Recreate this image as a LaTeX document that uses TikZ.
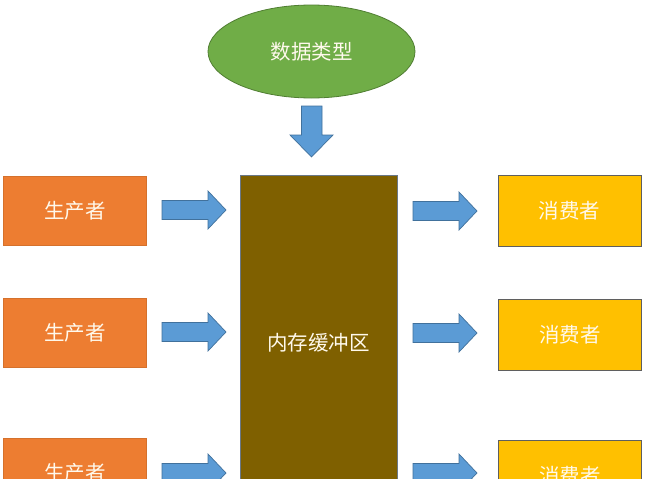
\documentclass[tikz,border=0pt]{standalone}
\usepackage{fontspec}
\newfontfamily\cjk{Noto Sans CJK SC}
\usetikzlibrary{shapes.geometric}
\definecolor{prodorange}{HTML}{ED7D31}
\definecolor{consgold}{HTML}{FFC000}
\definecolor{bufbrown}{HTML}{7F6000}
\definecolor{bufedge}{HTML}{6A7888}
\definecolor{typegreen}{HTML}{70AD47}
\definecolor{greenedge}{HTML}{507E32}
\definecolor{arrowblue}{HTML}{5B9BD5}
\definecolor{arrowedge}{HTML}{41719C}
\definecolor{txtwhite}{HTML}{FFF9EC}
\definecolor{consedge}{HTML}{5F5F5F}
\tikzset{
  lbl/.style={text=txtwhite, font=\cjk\fontsize{20.5}{20.5}\selectfont},
  prodbox/.style={lbl, rectangle, fill=prodorange, draw=prodorange!90!black, line width=0.5pt,
    minimum width=143pt, minimum height=69pt, inner sep=0pt},
  consbox/.style={lbl, rectangle, fill=consgold, draw=consedge, line width=0.8pt,
    minimum width=143pt, minimum height=71pt, inner sep=0pt},
  blockarrow/.style={fill=arrowblue, draw=arrowedge, line width=0.7pt, line join=miter},
}
\newcommand\hblockarrow[2]{%
  \draw[blockarrow] ({#1},{#2-9.5}) -- ({#1+46},{#2-9.5}) -- ({#1+46},{#2-19})
    -- ({#1+64},{#2}) -- ({#1+46},{#2+19}) -- ({#1+46},{#2+9.5}) -- ({#1},{#2+9.5}) -- cycle;}
\begin{document}
\begin{tikzpicture}[x=1pt,y=-1pt]
\useasboundingbox (0,0) rectangle (646,479);
\clip (0,0) rectangle (646,479);
\fill[white] (0,0) rectangle (646,479);
% data type ellipse
\node[lbl, ellipse, fill=typegreen, draw=greenedge, line width=0.8pt,
  minimum width=207pt, minimum height=93pt, inner sep=0pt] (type) at (311.5,51.5) {数据类型};
% buffer
\node[lbl, rectangle, fill=bufbrown, draw=bufedge, line width=0.8pt,
  minimum width=157pt, minimum height=336pt, inner sep=0pt] (buf) at (318.5,343) {内存缓冲区};
% down arrow
\draw[blockarrow] (301.5,106) -- (322,106) -- (322,135) -- (333,135) -- (311.5,157)
  -- (290,135) -- (301.5,135) -- cycle;
% producers
\node[prodbox] (p1) at (75,210.5) {生产者};
\node[prodbox] (p2) at (75,333) {生产者};
\node[prodbox] (p3) at (75,473) {生产者};
% consumers
\node[consbox] (c1) at (569.5,211) {消费者};
\node[consbox] (c2) at (570,334.5) {消费者};
\node[consbox] (c3) at (570,475.5) {消费者};
% arrows
\hblockarrow{162}{210}
\hblockarrow{162}{332}
\hblockarrow{162}{473}
\hblockarrow{413}{211}
\hblockarrow{413}{333}
\hblockarrow{413}{473}
\end{tikzpicture}
\end{document}
